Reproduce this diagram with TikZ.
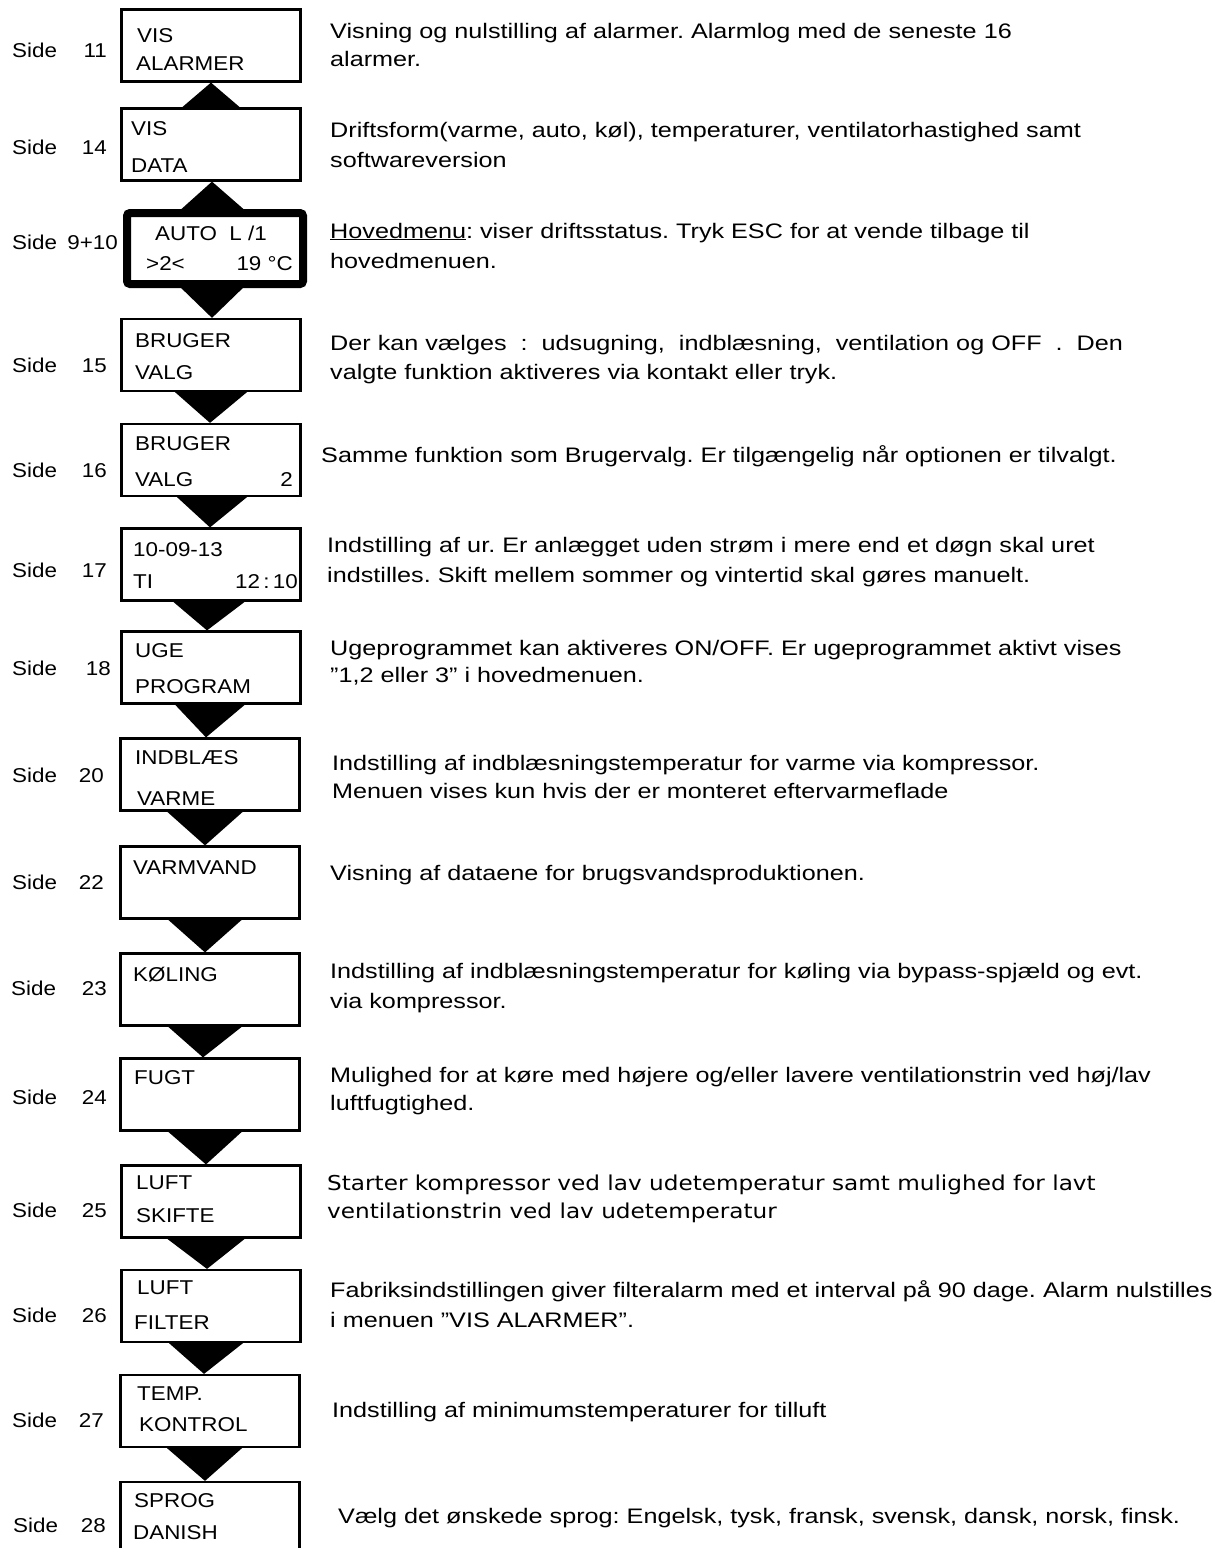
\documentclass[tikz,border=0pt]{standalone}
\usepackage{fontspec}
\setmainfont[FakeStretch=1.12]{Liberation Sans}
\newfontfamily\descfont[FakeStretch=1.2]{Liberation Sans}
\newfontfamily\verdfont[FakeStretch=1.13]{DejaVu Sans}
\usetikzlibrary{calc}
\frenchspacing
\begin{document}
\begin{tikzpicture}[x=1pt,y=-1pt,
  menubox/.style={draw, line width=2.2pt, minimum width=179pt, minimum height=72pt, inner sep=0pt},
  mainbox/.style={draw, line width=8pt, rounded corners=3pt, minimum width=176pt, minimum height=71pt, inner sep=0pt},
  txt/.style={anchor=base west, inner sep=0pt, font=\fontsize{20}{24}\selectfont\frenchspacing},
  txtr/.style={anchor=base east, inner sep=0pt, font=\fontsize{20}{24}\selectfont\frenchspacing},
  desc/.style={anchor=base west, inner sep=0pt, font=\descfont\fontsize{21}{24}\selectfont\frenchspacing},
  vdesc/.style={anchor=base west, inner sep=0pt, font=\verdfont\fontsize{20.5}{24}\selectfont\frenchspacing},
  tri/.style={fill=black}]
\useasboundingbox (0,0) rectangle (1222,1548);
\clip (0,0) rectangle (1222,1548);

% boxes
\node[menubox] (b1) at (211,45.5) {};
\node[menubox] (b2) at (211,144.5) {};
\node[mainbox] (b3) at (215,248.5) {};
\node[menubox] (b4) at (211,355) {};
\node[menubox] (b5) at (211,460) {};
\node[menubox] (b6) at (211,564.5) {};
\node[menubox] (b7) at (211,667.5) {};
\node[menubox] (b8) at (210,774.5) {};
\node[menubox] (b9) at (210,882.5) {};
\node[menubox] (b10) at (210,989.5) {};
\node[menubox] (b11) at (210,1094.5) {};
\node[menubox] (b12) at (211,1201.5) {};
\node[menubox] (b13) at (211,1306) {};
\node[menubox] (b14) at (210,1411) {};
\node[menubox] (b15) at (210,1518) {};

% connectors (solid triangles)
\fill[tri] ([xshift=-29pt]b2.north) -- (b1.south) -- ([xshift=29pt]b2.north) -- cycle;
\fill[tri] ([xshift=-38pt,yshift=-4pt]b3.north) -- ([xshift=1pt]b2.south) -- ([xshift=33pt,yshift=-4pt]b3.north) -- cycle;
\fill[tri] ([xshift=-38pt,yshift=4pt]b3.south) -- ([xshift=1pt]b4.north) -- ([xshift=32pt,yshift=4pt]b3.south) -- cycle;
\fill[tri] ([xshift=-36pt]b4.south) -- ([xshift=-1pt]b5.north) -- ([xshift=36pt]b4.south) -- cycle;
\fill[tri] ([xshift=-34pt]b5.south) -- ([xshift=-1pt]b6.north) -- ([xshift=36pt]b5.south) -- cycle;
\fill[tri] ([xshift=-38pt]b6.south) -- ([xshift=-4pt]b7.north) -- ([xshift=34pt]b6.south) -- cycle;
\fill[tri] ([xshift=-36pt]b7.south) -- ([xshift=-4pt]b8.north) -- ([xshift=34pt]b7.south) -- cycle;
\fill[tri] ([xshift=-43pt]b8.south) -- ([xshift=-5pt]b9.north) -- ([xshift=33pt]b8.south) -- cycle;
\fill[tri] ([xshift=-42pt]b9.south) -- ([xshift=-5pt]b10.north) -- ([xshift=32pt]b9.south) -- cycle;
\fill[tri] ([xshift=-42pt]b10.south) -- ([xshift=-7pt]b11.north) -- ([xshift=32pt]b10.south) -- cycle;
\fill[tri] ([xshift=-42pt]b11.south) -- ([xshift=-5pt]b12.north) -- ([xshift=32pt]b11.south) -- cycle;
\fill[tri] ([xshift=-44pt]b12.south) -- ([xshift=-4pt]b13.north) -- ([xshift=34pt]b12.south) -- cycle;
\fill[tri] ([xshift=-42pt]b13.south) -- ([xshift=-6pt]b14.north) -- ([xshift=32pt]b13.south) -- cycle;
\fill[tri] ([xshift=-43pt]b14.south) -- ([xshift=-5pt]b15.north) -- ([xshift=32pt]b14.south) -- cycle;

% box texts
\node[txt] (t1a) at (137,42) {VIS};
\node[txt] (t1b) at (136,70) {ALARMER};
\node[txt] (t2a) at (131,135) {VIS};
\node[txt] (t2b) at (131,172) {DATA};
\node[txt] (t3a) at (155,240) {AUTO\ \ L /1};
\node[txt] (t3b) at (146,270) {>2<};
\node[txtr] (t3c) at (293,270) {19 °C};
\node[txt] (t4a) at (135,347) {BRUGER};
\node[txt] (t4b) at (135,379) {VALG};
\node[txt] (t5a) at (135,450) {BRUGER};
\node[txt] (t5b) at (135,486) {VALG};
\node[txtr] (t5c) at (293,486) {2};
\node[txt] (t6a) at (133,556) {10-09-13};
\node[txt] (t6b) at (133,588) {TI};
\node[txtr] (t6c) at (298,588) {12\,:\,10};
\node[txt] (t7a) at (135,657) {UGE};
\node[txt] (t7b) at (135,693) {PROGRAM};
\node[txt] (t8a) at (135,764) {INDBLÆS};
\node[txt] (t8b) at (137,805) {VARME};
\node[txt] (t9a) at (133,874) {VARMVAND};
\node[txt] (t10a) at (133,981) {KØLING};
\node[txt] (t11a) at (134,1084) {FUGT};
\node[txt] (t12a) at (136,1189) {LUFT};
\node[txt] (t12b) at (136,1222) {SKIFTE};
\node[txt] (t13a) at (137,1294) {LUFT};
\node[txt] (t13b) at (134,1329) {FILTER};
\node[txt] (t14a) at (137,1400) {TEMP.};
\node[txt] (t14b) at (139,1431) {KONTROL};
\node[txt] (t15a) at (134,1507) {SPROG};
\node[txt] (t15b) at (133,1539) {DANISH};

% side labels
\node[txt] (s1) at (12,57) {Side};   \node[txtr] (n1) at (107,57) {11};
\node[txt] (s2) at (12,154) {Side};  \node[txtr] (n2) at (107,154) {14};
\node[txt] (s3) at (12,249) {Side};  \node[txtr] (n3) at (118,249) {9+10};
\node[txt] (s4) at (12,372) {Side};  \node[txtr] (n4) at (107,372) {15};
\node[txt] (s5) at (12,477) {Side};  \node[txtr] (n5) at (107,477) {16};
\node[txt] (s6) at (12,577) {Side};  \node[txtr] (n6) at (107,577) {17};
\node[txt] (s7) at (12,675) {Side};  \node[txtr] (n7) at (111,675) {18};
\node[txt] (s8) at (12,782) {Side};  \node[txtr] (n8) at (104,782) {20};
\node[txt] (s9) at (12,889) {Side};  \node[txtr] (n9) at (104,889) {22};
\node[txt] (s10) at (11,995) {Side}; \node[txtr] (n10) at (107,995) {23};
\node[txt] (s11) at (12,1104) {Side};\node[txtr] (n11) at (107,1104) {24};
\node[txt] (s12) at (12,1217) {Side};\node[txtr] (n12) at (107,1217) {25};
\node[txt] (s13) at (12,1322) {Side};\node[txtr] (n13) at (107,1322) {26};
\node[txt] (s14) at (12,1427) {Side};\node[txtr] (n14) at (104,1427) {27};
\node[txt] (s15) at (13,1532) {Side};\node[txtr] (n15) at (106,1532) {28};

% descriptions
\node[desc] (d1a) at (330,38) {Visning og nulstilling af alarmer. Alarmlog med de seneste 16};
\node[desc] (d1b) at (330,66) {alarmer.};
\node[desc] (d2a) at (330,137) {Driftsform(varme, auto, køl), temperaturer, ventilatorhastighed samt};
\node[desc] (d2b) at (330,167) {softwareversion};
\node[desc] (d3a) at (330,238) {\underline{Hovedmenu}: viser driftsstatus. Tryk ESC for at vende tilbage til};
\node[desc] (d3b) at (330,268) {hovedmenuen.};
\node[desc] (d4a) at (330,350) {Der kan vælges\ \ :\ \ udsugning,\ \ indblæsning,\ \ ventilation og OFF\ \ .\ \ Den};
\node[desc] (d4b) at (330,379) {valgte funktion aktiveres via kontakt eller tryk.};
\node[desc] (d5a) at (321,462) {Samme funktion som Brugervalg. Er tilgængelig når optionen er tilvalgt.};
\node[desc] (d6a) at (327,552) {Indstilling af ur. Er anlægget uden strøm i mere end et døgn skal uret};
\node[desc] (d6b) at (327,582) {indstilles. Skift mellem sommer og vintertid skal gøres manuelt.};
\node[desc] (d7a) at (330,655) {Ugeprogrammet kan aktiveres ON/OFF. Er ugeprogrammet aktivt vises};
\node[desc] (d7b) at (330,682) {”1,2 eller 3” i hovedmenuen.};
\node[desc] (d8a) at (332,770) {Indstilling af indblæsningstemperatur for varme via kompressor.};
\node[desc] (d8b) at (332,798) {Menuen vises kun hvis der er monteret eftervarmeflade};
\node[desc] (d9a) at (330,880) {Visning af dataene for brugsvandsproduktionen.};
\node[desc] (d10a) at (330,978) {Indstilling af indblæsningstemperatur for køling via bypass-spjæld og evt.};
\node[desc] (d10b) at (330,1008) {via kompressor.};
\node[desc] (d11a) at (330,1082) {Mulighed for at køre med højere og/eller lavere ventilationstrin ved høj/lav};
\node[desc] (d11b) at (330,1110) {luftfugtighed.};
\node[vdesc] (d12a) at (327,1190) {Starter kompressor ved lav udetemperatur samt mulighed for lavt};
\node[vdesc] (d12b) at (327,1218) {ventilationstrin ved lav udetemperatur};
\node[desc] (d13a) at (330,1297) {Fabriksindstillingen giver filteralarm med et interval på 90 dage. Alarm nulstilles};
\node[desc] (d13b) at (330,1327) {i menuen ”VIS ALARMER”.};
\node[desc] (d14a) at (332,1417) {Indstilling af minimumstemperaturer for tilluft};
\node[desc] (d15a) at (338,1523) {Vælg det ønskede sprog: Engelsk, tysk, fransk, svensk, dansk, norsk, finsk.};
\end{tikzpicture}
\end{document}
